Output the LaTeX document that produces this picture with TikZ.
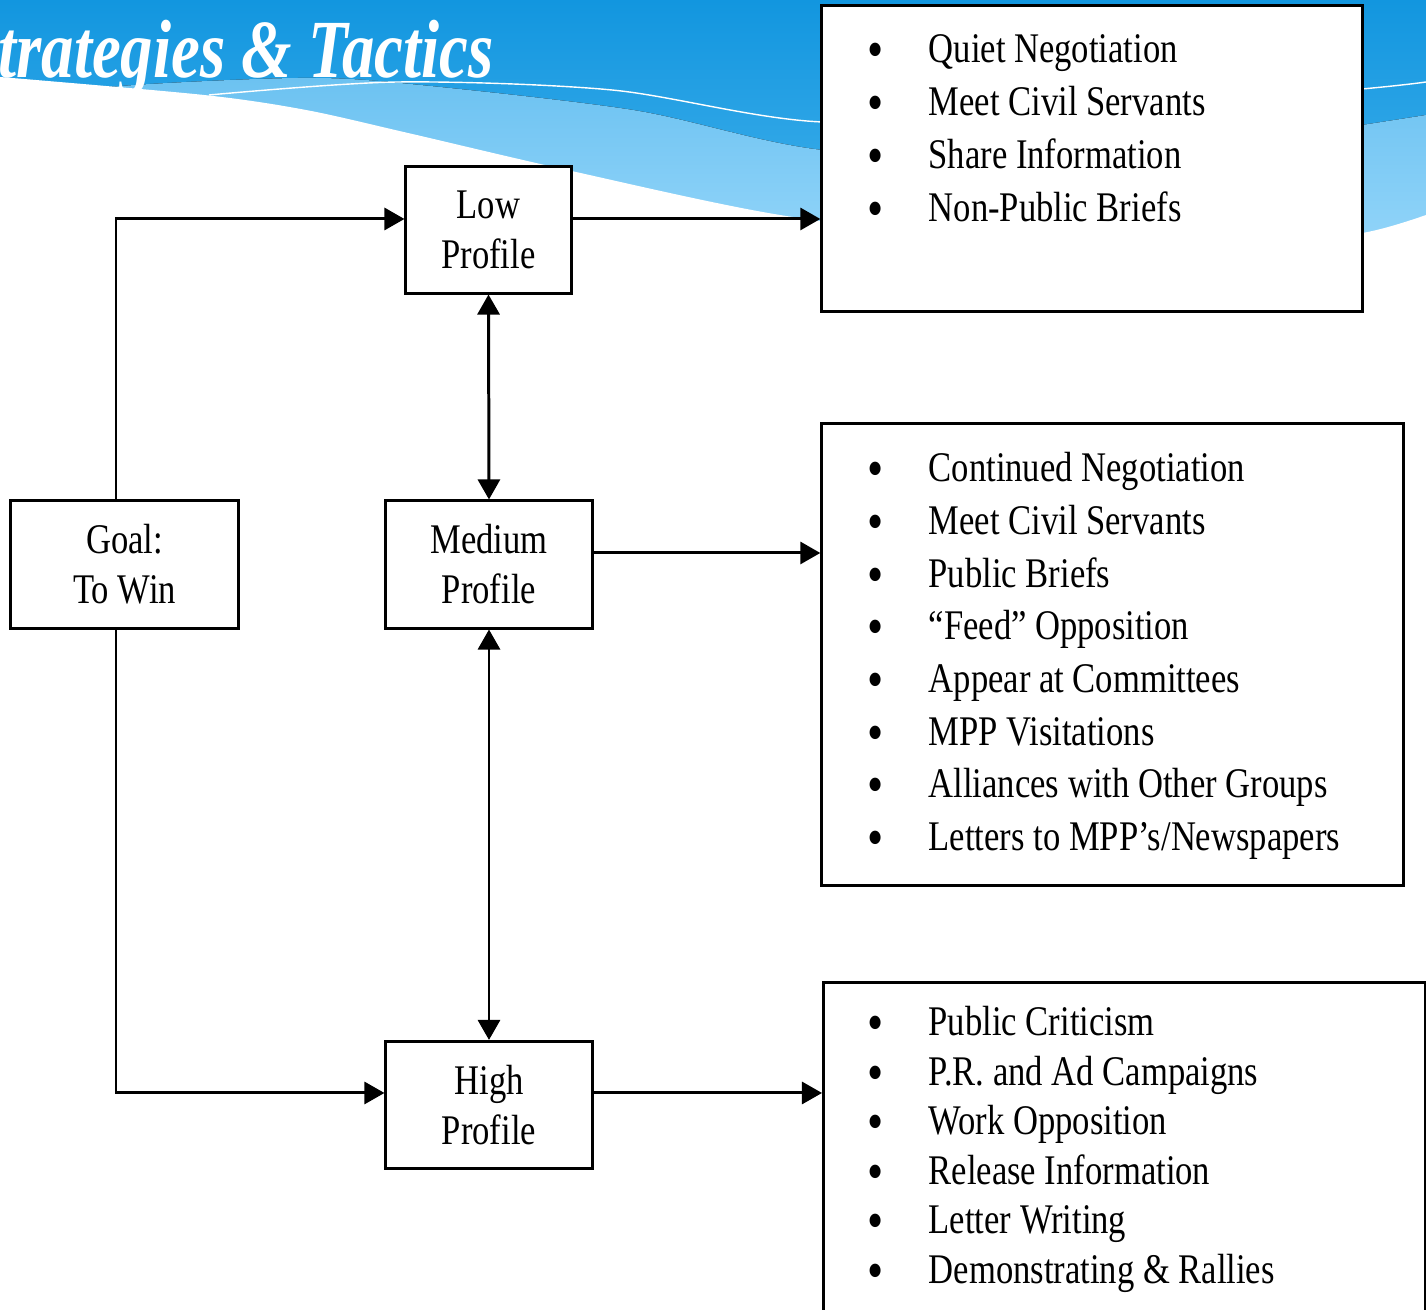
\documentclass[tikz,border=0pt]{standalone}
\usepackage{fontspec}
\setmainfont{Liberation Serif}[FakeStretch=0.82]
\newfontfamily\titlefont{Liberation Serif}[FakeStretch=0.785]
\usetikzlibrary{arrows.meta}
\definecolor{bannertop}{HTML}{1296DF}
\definecolor{bannerbot}{HTML}{45B2EC}
\definecolor{wavetop}{HTML}{6CC2F1}
\definecolor{wavebot}{HTML}{95D6FA}
\newcommand{\tac}{\raisebox{-1.7pt}{\fontsize{16}{10}\selectfont\textbullet}}

\begin{document}
\begin{tikzpicture}[x=0.01cm, y=-0.01cm,
  box/.style={draw, line width=0.85pt, fill=white, align=center, inner sep=0pt,
    font=\fontsize{12}{14.2}\selectfont},
  tactics/.style={anchor=base west, inner sep=0pt, font=\fontsize{12}{#1}\selectfont},
  arr/.style={line width=0.85pt, -{Triangle[length=0.2cm,width=0.22cm]}},
  dbl/.style={line width=0.85pt, {Triangle[length=0.2cm,width=0.22cm]}-{Triangle[length=0.2cm,width=0.22cm]}}]

\useasboundingbox (0,0) rectangle (1426,1310);
\fill[white] (0,0) rectangle (1426,1310);
\fill[top color=bannertop, bottom color=bannerbot] (0,0) rectangle (1426,260);
\fill[top color=wavetop, bottom color=wavebot]
  plot[smooth] coordinates {(0,96) (150,84) (300,78) (400,83) (633,110) (822,150) (1100,165) (1362,125) (1426,115)}
  -- (1426,260) -- (0,260) -- cycle;
\fill[white]
  plot[smooth] coordinates {(0,77) (204,95) (306,110) (408,133) (567,170) (780,215) (1000,240) (1250,242) (1362,233) (1426,215)}
  -- (1426,300) -- (0,300) -- cycle;
\draw[white, line width=0.4pt]
  plot[smooth] coordinates {(209,95) (398,82) (612,90) (822,122) (1100,112) (1362,89) (1426,82)};

\node[anchor=base east, text=white, inner sep=0pt,
  font=\titlefont\fontsize{23.5}{23.5}\selectfont\bfseries\itshape] (title) at (494,78) {Strategies \& Tactics};

\node[box, minimum width=1.65cm, minimum height=1.26cm] (low) at (488.5,230) {Low\\Profile};
\node[box, minimum width=2.06cm, minimum height=1.27cm] (med) at (489,564.5) {Medium\\Profile};
\node[box, minimum width=2.06cm, minimum height=1.27cm] (high) at (489,1105) {High\\Profile};
\node[box, minimum width=2.27cm, minimum height=1.27cm] (goal) at (124.5,564.5) {Goal:\\To Win};

\node[box, minimum width=5.40cm, minimum height=3.05cm] (lowtac) at (1092,158.5) {};
\node[box, minimum width=5.81cm, minimum height=4.61cm] (medtac) at (1112.5,654.5) {};
\node[box, minimum width=6.02cm, minimum height=3.60cm, anchor=north west] (hightac) at (822,981) {};

\node[tactics=15pt] (lowlist) at (867,63) {\begin{tabular}[t]{@{}p{0.61cm}@{}l@{}}
  \tac & Quiet Negotiation\\
  \tac & Meet Civil Servants\\
  \tac & Share Information\\
  \tac & Non-Public Briefs
\end{tabular}};
\node[tactics=14.96pt] (medlist) at (867,482) {\begin{tabular}[t]{@{}p{0.61cm}@{}l@{}}
  \tac & Continued Negotiation\\
  \tac & Meet Civil Servants\\
  \tac & Public Briefs\\
  \tac & “Feed” Opposition\\
  \tac & Appear at Committees\\
  \tac & MPP Visitations\\
  \tac & Alliances with Other Groups\\
  \tac & Letters to MPP’s/Newspapers
\end{tabular}};
\node[tactics=14.06pt] (highlist) at (867,1036) {\begin{tabular}[t]{@{}p{0.61cm}@{}l@{}}
  \tac & Public Criticism\\
  \tac & P.R. and Ad Campaigns\\
  \tac & Work Opposition\\
  \tac & Release Information\\
  \tac & Letter Writing\\
  \tac & Demonstrating \& Rallies
\end{tabular}};

\draw[arr] ([xshift=-0.085cm]goal.north) |- ([yshift=0.11cm]low.west);
\draw[arr] ([yshift=0.11cm]low.east) -- ([yshift=0.11cm]low.east -| lowtac.west);
\draw[arr] ([yshift=0.115cm]med.east) -- ([yshift=0.115cm]med.east -| medtac.west);
\draw[arr] ([xshift=-0.085cm]goal.south) |- ([yshift=0.12cm]high.west);
\draw[arr] ([yshift=0.12cm]high.east) -- ([yshift=0.12cm]high.east -| hightac.west);
\draw[dbl] (low.south) -- (med.north);
\draw[dbl] (med.south) -- (high.north);
\end{tikzpicture}
\end{document}
